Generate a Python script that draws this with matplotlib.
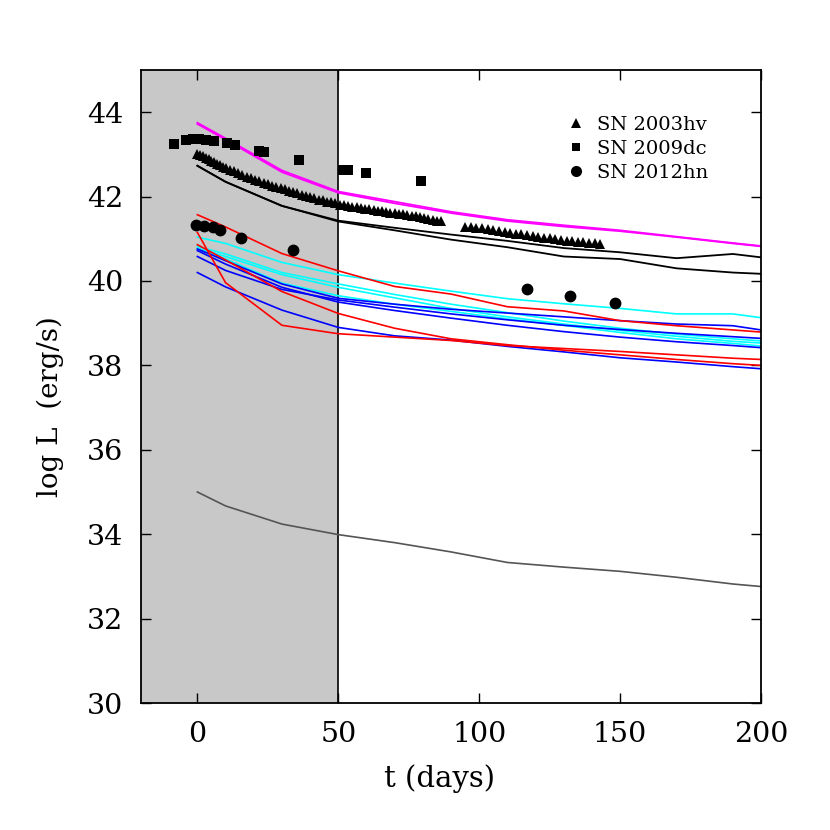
"""Bolometric light curves of SN 2003hv, 2009dc and 2012hn vs. model tracks."""
import matplotlib
matplotlib.use("Agg")
import matplotlib.pyplot as plt
from matplotlib.lines import Line2D

# model epochs (days)
T_MODEL = [0, 10, 30, 50, 70, 90, 110, 130, 150, 170, 190, 200]

MAG_A = [43.75, 43.38, 42.62, 42.12, 41.88, 41.64, 41.45, 41.32, 41.20, 41.05, 40.90, 40.83]
MAG_B = [43.72, 43.35, 42.58, 42.09, 41.84, 41.61, 41.42, 41.29, 41.18, 41.04, 40.89, 40.82]
BLK_A = [42.73, 42.35, 41.78, 41.43, 41.26, 41.10, 40.95, 40.78, 40.68, 40.54, 40.64, 40.56]
BLK_B = [42.73, 42.35, 41.78, 41.41, 41.20, 40.98, 40.80, 40.58, 40.52, 40.30, 40.20, 40.17]
RED_A = [41.57, 41.28, 40.65, 40.24, 39.87, 39.69, 39.39, 39.29, 39.06, 38.94, 38.84, 38.79]
RED_B = [41.15, 39.96, 38.95, 38.75, 38.67, 38.59, 38.47, 38.40, 38.33, 38.25, 38.17, 38.14]
RED_C = [40.86, 40.50, 39.75, 39.23, 38.88, 38.63, 38.49, 38.36, 38.25, 38.14, 38.04, 38.00]
CYA_A = [41.04, 40.89, 40.44, 40.15, 39.95, 39.76, 39.58, 39.46, 39.35, 39.22, 39.22, 39.13]
CYA_B = [40.82, 40.64, 40.20, 39.93, 39.68, 39.45, 39.25, 39.05, 38.88, 38.74, 38.63, 38.58]
CYA_C = [40.78, 40.58, 40.15, 39.85, 39.60, 39.35, 39.15, 38.98, 38.83, 38.69, 38.57, 38.53]
CYA_D = [40.75, 40.52, 39.95, 39.65, 39.45, 39.28, 39.10, 38.95, 38.78, 38.63, 38.52, 38.46]
BLU_A = [40.76, 40.48, 39.93, 39.59, 39.45, 39.33, 39.24, 39.15, 39.06, 38.98, 38.94, 38.84]
BLU_B = [40.58, 40.25, 39.80, 39.55, 39.38, 39.22, 39.08, 38.95, 38.85, 38.76, 38.68, 38.64]
BLU_C = [40.72, 40.40, 39.85, 39.50, 39.30, 39.12, 38.95, 38.80, 38.67, 38.56, 38.47, 38.42]
BLU_D = [40.20, 39.86, 39.31, 38.90, 38.70, 38.60, 38.45, 38.32, 38.18, 38.08, 37.97, 37.92]
GRY_A = [35.00, 34.67, 34.24, 33.99, 33.80, 33.58, 33.33, 33.22, 33.12, 32.98, 32.82, 32.76]

# SN 2003hv (triangles)
T_03HV = [0, 1, 2, 3, 4, 5, 6, 7, 8, 9, 10, 11.5, 13, 14.5, 16, 17.5, 19, 20.5,
          22, 23.5, 25, 26.5, 28, 29.5, 31, 32.5, 34, 35.5, 37, 38.5, 40, 41.5,
          43, 44.5, 46, 47.5, 49, 50.5, 52, 53.5, 55, 56.5, 58, 59.5, 61, 62.5,
          64, 65.5, 67, 68.5, 70, 71.5, 73, 74.5, 76, 77.5, 79, 80.5, 82, 83.5,
          85, 86.5,
          95, 97, 99, 101, 103, 105, 107, 109, 111, 113, 115, 117, 119, 121,
          123, 125, 127, 129, 131, 133, 135, 137, 139, 141, 143]
L_03HV = [43.00, 42.98, 42.95, 42.92, 42.88, 42.85, 42.81, 42.78, 42.75, 42.71,
          42.68, 42.64, 42.60, 42.55, 42.51, 42.47, 42.43, 42.39, 42.36, 42.32,
          42.29, 42.26, 42.23, 42.20, 42.17, 42.14, 42.11, 42.08, 42.04, 42.01,
          41.98, 41.96, 41.93, 41.91, 41.88, 41.86, 41.84, 41.81, 41.80, 41.78,
          41.76, 41.75, 41.73, 41.71, 41.70, 41.68, 41.67, 41.65, 41.64, 41.62,
          41.61, 41.59, 41.58, 41.56, 41.54, 41.53, 41.51, 41.49, 41.47, 41.45,
          41.43, 41.41,
          41.28, 41.27, 41.26, 41.25, 41.23, 41.21, 41.18, 41.16, 41.14, 41.12,
          41.11, 41.09, 41.07, 41.05, 41.03, 41.01, 40.99, 40.97, 40.95, 40.94,
          40.93, 40.92, 40.90, 40.89, 40.88]

# SN 2009dc (squares)
T_09DC = [-8.2, -4.0, -1.7, 0.7, 3.1, 6.0, 10.4, 13.5, 21.8, 23.8, 36.0, 51.6, 53.6, 59.9, 79.2]
L_09DC = [43.25, 43.33, 43.36, 43.36, 43.35, 43.32, 43.26, 43.22, 43.07, 43.05, 42.86, 42.64, 42.62, 42.55, 42.38]

# SN 2012hn (circles)
T_12HN = [-0.5, 2.5, 5.4, 8.0, 15.5, 33.9, 117.0, 132.1, 148.1]
L_12HN = [41.33, 41.31, 41.27, 41.21, 41.01, 40.74, 39.81, 39.65, 39.48]


def main():
    plt.rcParams["font.family"] = ["DejaVu Serif"]
    fig = plt.figure(figsize=(8.3, 8.3), dpi=100)
    ax = fig.add_axes([0.1699, 0.153, 0.747, 0.7627])

    ax.axvspan(-20, 50, color="#c8c8c8", lw=0, zorder=0)
    ax.axvline(50, color="black", lw=1.2, zorder=1)

    for y in (MAG_A, MAG_B):
        ax.plot(T_MODEL, y, color="#ff00ff", lw=1.3)
    for y in (BLK_A, BLK_B):
        ax.plot(T_MODEL, y, color="black", lw=1.3)
    for y in (CYA_A, CYA_B, CYA_C, CYA_D):
        ax.plot(T_MODEL, y, color="#00ffff", lw=1.2)
    for y in (BLU_A, BLU_B, BLU_C, BLU_D):
        ax.plot(T_MODEL, y, color="#0000ff", lw=1.2)
    for y in (RED_A, RED_B, RED_C):
        ax.plot(T_MODEL, y, color="#ff0000", lw=1.2)
    ax.plot(T_MODEL, GRY_A, color="#555555", lw=1.2)

    ax.plot(T_03HV, L_03HV, ls="none", marker="^", ms=7.5, color="black", mew=0)
    ax.plot(T_09DC, L_09DC, ls="none", marker="s", ms=6.5, color="black", mew=0)
    ax.plot(T_12HN, L_12HN, ls="none", marker="o", ms=8.5, color="black", mew=0)

    handles = [
        Line2D([], [], ls="none", marker="^", ms=7, color="black", mew=0),
        Line2D([], [], ls="none", marker="s", ms=6, color="black", mew=0),
        Line2D([], [], ls="none", marker="o", ms=8, color="black", mew=0),
    ]
    ax.legend(handles, ["SN 2003hv", "SN 2009dc", "SN 2012hn"],
              loc="upper left", bbox_to_anchor=(0.657, 0.955), frameon=False,
              fontsize=14, handlelength=1.0, handletextpad=0.6,
              labelspacing=0.3)

    ax.set_xlim(-20, 200)
    ax.set_ylim(30, 45)
    ax.set_xticks([0, 50, 100, 150, 200])
    ax.set_yticks(range(30, 45, 2))
    ax.tick_params(direction="in", length=7, width=1.0, labelsize=20.5,
                   top=True, right=True, pad=13)
    for s in ax.spines.values():
        s.set_linewidth(1.3)
    ax.set_xlabel("t (days)", fontsize=21)
    ax.set_ylabel("log L  (erg/s)", fontsize=20)
    ax.xaxis.set_label_coords(0.482, -0.096)
    ax.yaxis.set_label_coords(-0.125, 0.468)

    fig.savefig("out.png", dpi=100)


if __name__ == "__main__":
    main()
